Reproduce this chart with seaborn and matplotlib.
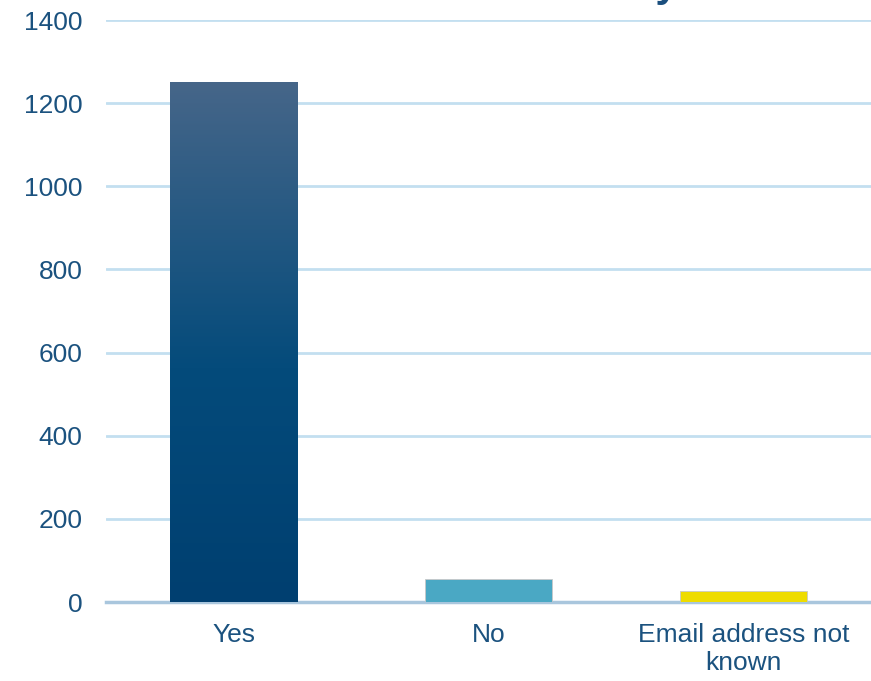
import matplotlib
matplotlib.use("Agg")
import matplotlib.pyplot as plt
import numpy as np
import pandas as pd
import seaborn as sns
from matplotlib.colors import LinearSegmentedColormap

# datos
categorias = ["Yes", "No", "Email address not\nknown"]
valores = [1252, 55, 27]
colores = ["#02436f", "#4aa8c4", "#eedc00"]
marcas_y = [0, 200, 400, 600, 800, 1000, 1200, 1400]
titulo = "Permission to contact by email"

AZUL_TEXTO = "#1b527f"
AZUL_GRID = "#c3dff0"

sns.set_theme(style="white")
plt.rcParams["font.family"] = ["Liberation Sans", "DejaVu Sans"]

df = pd.DataFrame({"categoria": categorias, "valor": valores})

fig = plt.figure(figsize=(8.71, 6.81), dpi=100)
ax = fig.add_axes([106 / 871, 79 / 681, 765 / 871, 582 / 681])

sns.barplot(data=df, x="categoria", y="valor", hue="categoria",
            palette=colores, saturation=1, width=0.5, legend=False, ax=ax,
            edgecolor="#c8c8c8", linewidth=0.6, zorder=3)

# degradado en la barra "Yes"
barra = ax.patches[0]
x0, y0 = barra.get_x(), barra.get_y()
ancho, alto = barra.get_width(), barra.get_height()
cmap = LinearSegmentedColormap.from_list(
    "yes", [(0.0, "#003f70"), (0.45, "#044b7b"), (1.0, "#466689")])
grad = np.linspace(0, 1, 256).reshape(-1, 1)
img = ax.imshow(grad, cmap=cmap, aspect="auto", origin="lower",
                extent=[x0, x0 + ancho, y0, y0 + alto], zorder=3.5)
img.set_clip_path(barra)

ax.set_xlim(-0.5, 2.5)
ax.set_ylim(0, 1400)
ax.set_yticks(marcas_y)
ax.set_xlabel("")
ax.set_ylabel("")
ax.yaxis.grid(True, color=AZUL_GRID, linewidth=2, zorder=0)
ax.set_axisbelow(True)
for lado in ["top", "right", "left"]:
    ax.spines[lado].set_visible(False)
ax.spines["bottom"].set_color("#a9c6dd")
ax.spines["bottom"].set_linewidth(2.5)
ax.tick_params(axis="y", length=0, pad=17, labelsize=19, labelcolor=AZUL_TEXTO)
ax.tick_params(axis="x", length=0, pad=15, labelsize=19, labelcolor=AZUL_TEXTO)

# el titulo queda casi fuera de la imagen, como en el original
fig.text(490 / 871, 1 + 4 / 681, titulo, ha="center", va="baseline",
         fontsize=30, fontweight="bold", color="#1b4f7e")

fig.savefig("out.png", dpi=100)
